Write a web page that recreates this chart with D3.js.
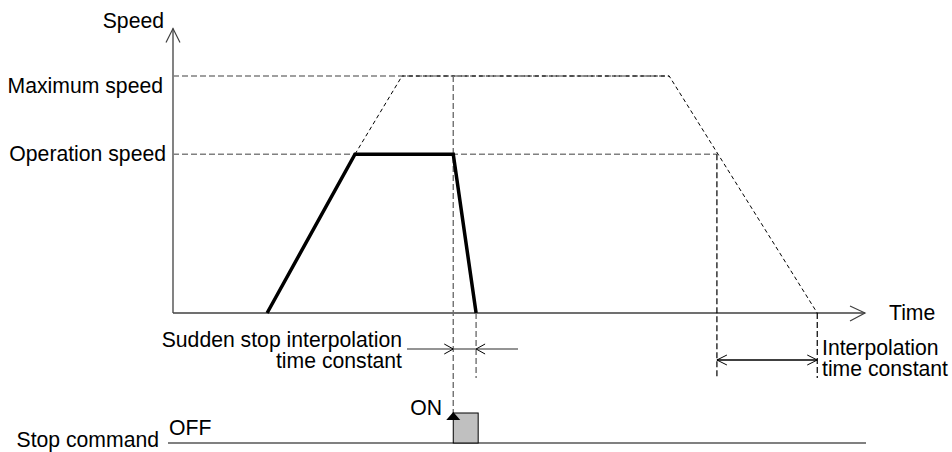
<!DOCTYPE html>
<html>
<head>
<meta charset="utf-8">
<script src="https://cdn.jsdelivr.net/npm/d3@7"></script>
<style>
  body { margin: 0; background: #fff; }
  text { font-family: "Liberation Sans", Arial, sans-serif; font-size: 21.2px; fill: #000; }
</style>
</head>
<body>
<script>
// 時間軸上の主要点 (0-100)
const profileTimes = [13.6, 26.3, 40.5, 43.8];     // 実際の動作 (加速開始, 到達, 停止指令, 停止)
const profileSpeeds = [0, 0.67, 0.67, 0];
const extendTimes = [26.3, 33.1, 71.7, 93.1];      // 最大速度までの延長線
const extendSpeeds = [0.67, 1, 1, 0];
const speedLevels = [{ name: "Maximum speed", v: 1, end: 71.7 }, { name: "Operation speed", v: 0.67, end: 78.6 }];
const pulseTimes = [40.5, 44.1];
const opSpeed = 0.67;
const decelOpTime = 78.6;

const width = 952, height = 452;
const x = d3.scaleLinear().domain([0, 100]).range([173, 865]);
const y = d3.scaleLinear().domain([0, 1]).range([313, 76]);
const axisTop = y(1.2);
const arrowY = 349, intY = 360, dashBottom = 378;
const stopBase = 443, stopTop = 413;

const svg = d3.select("body").append("svg").attr("width", width).attr("height", height);

// 軸
svg.append("line").attr("x1", x(0)).attr("x2", x(0)).attr("y1", axisTop).attr("y2", y(0))
  .attr("stroke", "#404040").attr("stroke-width", 1.3);
svg.append("line").attr("x1", x(0)).attr("x2", x(100)).attr("y1", y(0)).attr("y2", y(0))
  .attr("stroke", "#404040").attr("stroke-width", 1.3);
svg.append("path").attr("d", `M${x(0) - 7},${axisTop + 14}L${x(0)},${axisTop}L${x(0) + 7},${axisTop + 14}`)
  .attr("fill", "none").attr("stroke", "#404040").attr("stroke-width", 1.2);
svg.append("path").attr("d", `M${x(100) - 15},${y(0) - 7}L${x(100)},${y(0)}L${x(100) - 15},${y(0) + 8}`)
  .attr("fill", "none").attr("stroke", "#404040").attr("stroke-width", 1.2);

// 速度レベルの破線
svg.selectAll("line.level").data(speedLevels).enter().append("line")
  .attr("x1", x(0)).attr("x2", (d) => x(d.end))
  .attr("y1", (d) => y(d.v)).attr("y2", (d) => y(d.v))
  .attr("stroke", "#808080").attr("stroke-width", 1.6).attr("stroke-dasharray", "6,3");

// 延長線 (細い破線)
const line = d3.line().x((d) => x(d[0])).y((d) => y(d[1]));
svg.append("path").datum(d3.zip(extendTimes, extendSpeeds)).attr("d", line)
  .attr("fill", "none").attr("stroke", "#000").attr("stroke-width", 1).attr("stroke-dasharray", "4,3");

// 垂直の破線
svg.append("line").attr("x1", x(pulseTimes[0])).attr("x2", x(pulseTimes[0]))
  .attr("y1", y(1)).attr("y2", stopTop)
  .attr("stroke", "#707070").attr("stroke-width", 1.4).attr("stroke-dasharray", "6,3");
svg.append("line").attr("x1", x(profileTimes[3])).attr("x2", x(profileTimes[3]))
  .attr("y1", y(0)).attr("y2", dashBottom)
  .attr("stroke", "#707070").attr("stroke-width", 1.4).attr("stroke-dasharray", "6,3");
svg.append("line").attr("x1", x(decelOpTime)).attr("x2", x(decelOpTime))
  .attr("y1", y(opSpeed)).attr("y2", dashBottom)
  .attr("stroke", "#000").attr("stroke-width", 1.2).attr("stroke-dasharray", "6,3");
svg.append("line").attr("x1", x(extendTimes[3])).attr("x2", x(extendTimes[3]))
  .attr("y1", y(0)).attr("y2", dashBottom)
  .attr("stroke", "#000").attr("stroke-width", 1.2).attr("stroke-dasharray", "6,3");

// 実際の速度プロファイル
svg.append("path").datum(d3.zip(profileTimes, profileSpeeds)).attr("d", line)
  .attr("fill", "none").attr("stroke", "#000").attr("stroke-width", 3.5).attr("stroke-linejoin", "miter");

// 急停止補間時定数の矢印
const a1 = x(profileTimes[2]), a2 = x(profileTimes[3]);
svg.append("line").attr("x1", 407).attr("x2", 518).attr("y1", arrowY).attr("y2", arrowY)
  .attr("stroke", "#707070").attr("stroke-width", 1.3);
svg.append("path").attr("d", `M${a1 - 9},${arrowY - 5}L${a1},${arrowY}L${a1 - 9},${arrowY + 5}`)
  .attr("fill", "none").attr("stroke", "#000").attr("stroke-width", 1);
svg.append("path").attr("d", `M${a2 + 9},${arrowY - 5}L${a2},${arrowY}L${a2 + 9},${arrowY + 5}`)
  .attr("fill", "none").attr("stroke", "#000").attr("stroke-width", 1);

// 補間時定数の矢印
const b1 = x(decelOpTime), b2 = x(extendTimes[3]);
svg.append("line").attr("x1", b1).attr("x2", b2).attr("y1", intY).attr("y2", intY)
  .attr("stroke", "#000").attr("stroke-width", 1.3);
svg.append("path").attr("d", `M${b1 + 10},${intY - 5}L${b1},${intY}L${b1 + 10},${intY + 5}`)
  .attr("fill", "none").attr("stroke", "#000").attr("stroke-width", 1);
svg.append("path").attr("d", `M${b2 - 10},${intY - 5}L${b2},${intY}L${b2 - 10},${intY + 5}`)
  .attr("fill", "none").attr("stroke", "#000").attr("stroke-width", 1);

// 停止指令
svg.append("line").attr("x1", 168).attr("x2", 866).attr("y1", stopBase).attr("y2", stopBase)
  .attr("stroke", "#808080").attr("stroke-width", 2);
svg.append("rect").attr("x", x(pulseTimes[0])).attr("y", stopTop)
  .attr("width", x(pulseTimes[1]) - x(pulseTimes[0])).attr("height", stopBase - stopTop)
  .attr("fill", "#c0c0c0").attr("stroke", "#000").attr("stroke-width", 1);
svg.append("path").attr("d", `M${a1 - 7},${stopTop + 7}L${a1},${stopTop - 1}L${a1 + 7},${stopTop + 7}Z`)
  .attr("fill", "#000");

// テキスト
svg.append("text").attr("x", 164).attr("y", 28).attr("text-anchor", "end").text("Speed");
svg.append("text").attr("x", 163).attr("y", 93).attr("text-anchor", "end").text("Maximum speed");
svg.append("text").attr("x", 166).attr("y", 161).attr("text-anchor", "end").text("Operation speed");
svg.append("text").attr("x", 889).attr("y", 320).text("Time");
svg.append("text").attr("x", 402).attr("y", 347).attr("text-anchor", "end").text("Sudden stop interpolation");
svg.append("text").attr("x", 402).attr("y", 368).attr("text-anchor", "end").text("time constant");
svg.append("text").attr("x", 822).attr("y", 355).text("Interpolation");
svg.append("text").attr("x", 822).attr("y", 376).text("time constant");
svg.append("text").attr("x", 442).attr("y", 415).attr("text-anchor", "end").text("ON");
svg.append("text").attr("x", 169).attr("y", 435).text("OFF");
svg.append("text").attr("x", 159).attr("y", 447).attr("text-anchor", "end").text("Stop command");
</script>
</body>
</html>
